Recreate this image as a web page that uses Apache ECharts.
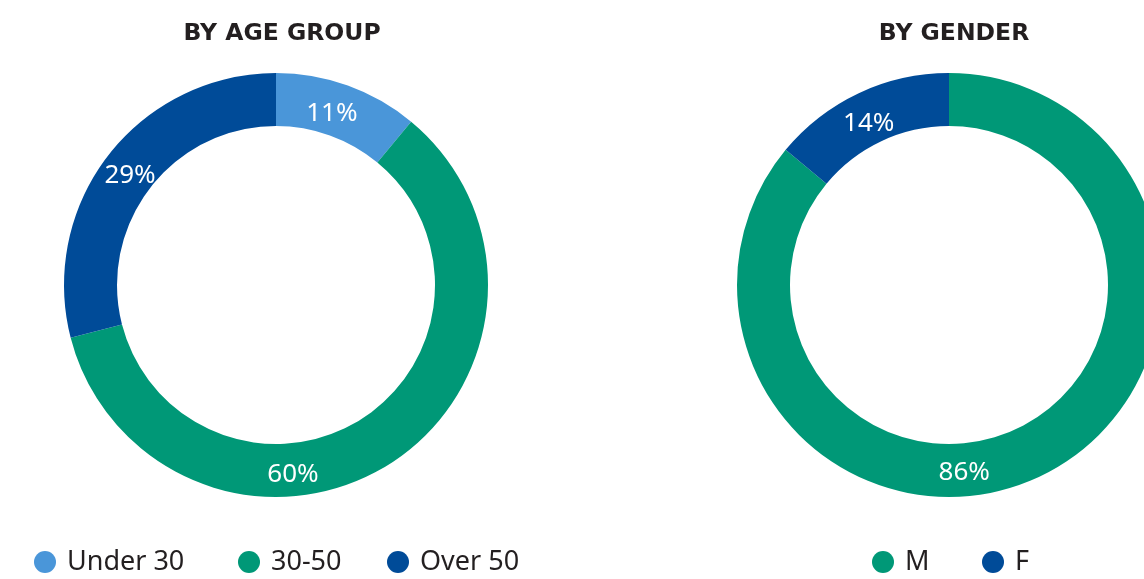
<!DOCTYPE html>
<html>
<head>
<meta charset="utf-8">
<script src="https://cdn.jsdelivr.net/npm/echarts@6/dist/echarts.min.js"></script>
<style>
  html, body { margin: 0; padding: 0; background: #fff; }
  #main { width: 1144px; height: 579px; }
</style>
</head>
<body>
<div id="main"></div>
<script>
// 数据
var ageNames = ['Under 30', '30-50', 'Over 50'];
var ageValues = [11, 60, 29];
var genderNames = ['M', 'F'];
var genderValues = [86, 14];

// 样式 / 布局
var ageColors = ['#4A96D9', '#009877', '#004B98'];
var genderColors = ['#009877', '#004B98'];
var ageLabelOffsets = [[-8, 6], [-84, 30], [3, 6]];
var genderLabelOffsets = [[-65, 17], [0, 9]];
var ageLegendLeft = [34, 238, 387];
var genderLegendLeft = [872, 982];

var chart = echarts.init(document.getElementById('main'));

function toData(names, values, offsets) {
    return names.map(function (n, i) {
        return { name: n, value: values[i], label: { offset: offsets[i] } };
    });
}

// 每个图例项单独放置
function makeLegends(names, lefts) {
    return names.map(function (n, i) {
        return {
            data: [n], left: lefts[i], top: 547, padding: 0, icon: 'circle',
            itemWidth: 22, itemHeight: 22,
            textStyle: { fontSize: 27, lineHeight: 30, color: '#231f20',
                         fontFamily: 'Noto Sans', padding: [0, 0, 0, 6] }
        };
    });
}

var labelStyle = {
    show: true,
    position: 'inside',
    formatter: '{c}%',
    color: '#fff',
    fontSize: 26,
    fontFamily: 'Noto Sans'
};

var titleStyle = { fontSize: 23.5, fontWeight: 'bold', color: '#231f20', fontFamily: 'DejaVu Sans' };

var option = {
    animation: false,
    textStyle: { fontFamily: 'Noto Sans' },
    title: [
        { text: 'BY AGE GROUP', left: 277, top: 17, textAlign: 'center', textStyle: titleStyle },
        { text: 'BY GENDER', left: 949, top: 17, textAlign: 'center', textStyle: titleStyle }
    ],
    legend: makeLegends(ageNames, ageLegendLeft).concat(makeLegends(genderNames, genderLegendLeft)),
    series: [
        {
            type: 'pie',
            center: [276, 285],
            radius: [159, 212],
            startAngle: 90,
            clockwise: true,
            color: ageColors,
            label: labelStyle,
            labelLine: { show: false },
            emphasis: { disabled: true },
            data: toData(ageNames, ageValues, ageLabelOffsets)
        },
        {
            type: 'pie',
            center: [949, 285],
            radius: [159, 212],
            startAngle: 90,
            clockwise: true,
            color: genderColors,
            label: labelStyle,
            labelLine: { show: false },
            emphasis: { disabled: true },
            data: toData(genderNames, genderValues, genderLabelOffsets)
        }
    ]
};

chart.setOption(option);
</script>
</body>
</html>
